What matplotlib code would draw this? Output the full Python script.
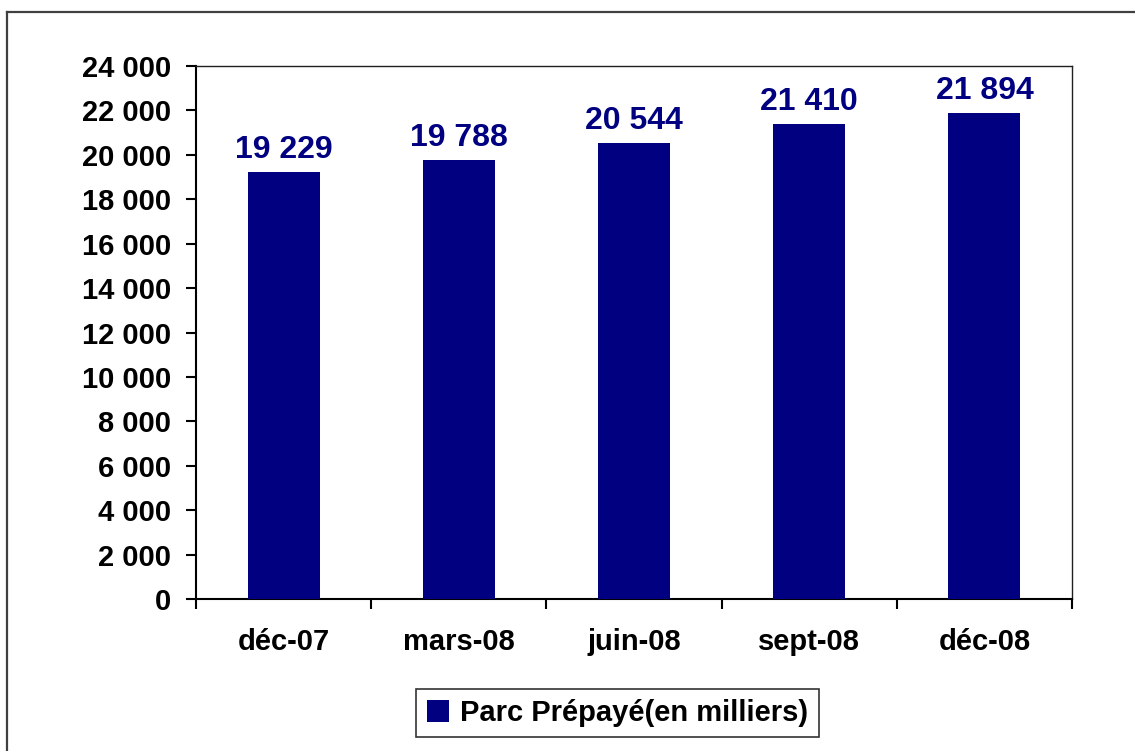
import matplotlib.pyplot as plt
from matplotlib.lines import Line2D
from matplotlib.ticker import FuncFormatter, FixedLocator

# data
categories = ['déc-07', 'mars-08', 'juin-08', 'sept-08', 'déc-08']
values = [19229, 19788, 20544, 21410, 21894]
series_name = 'Parc Prépayé(en milliers)'

plt.rcParams['font.family'] = ['Liberation Sans', 'DejaVu Sans']
plt.rcParams['font.weight'] = 'bold'

navy = '#000080'

def fr_num(v, pos=None):
    return f'{int(v):,}'.replace(',', ' ')

fig = plt.figure(figsize=(11.35, 7.51), dpi=100)
ax = fig.add_axes([196 / 1135, 1 - 599 / 751, (1072 - 196) / 1135, (599 - 66) / 751])

x = list(range(len(categories)))
bars = ax.bar(x, values, width=0.41, color=navy, label=series_name, zorder=3)

for xi, v in zip(x, values):
    ax.annotate(fr_num(v), (xi, v), xytext=(0, 5), textcoords='offset points',
                ha='center', va='bottom', color=navy, fontsize=23, fontweight='bold')

ax.set_xlim(-0.5, len(categories) - 0.5)
ax.set_ylim(0, 24000)
ax.set_yticks(range(0, 24001, 2000))
ax.yaxis.set_major_formatter(FuncFormatter(fr_num))

# ticks between categories, labels in the middle
ax.xaxis.set_major_locator(FixedLocator([i - 0.5 for i in range(len(categories) + 1)]))
ax.xaxis.set_major_formatter(FuncFormatter(lambda v, p: ''))
ax.xaxis.set_minor_locator(FixedLocator(x))
ax.set_xticklabels(categories, minor=True)
ax.tick_params(axis='x', which='major', direction='out', length=7, width=1.5)
ax.tick_params(axis='x', which='minor', length=0, pad=21, labelsize=21)
ax.tick_params(axis='y', direction='out', length=7, width=1.5, pad=11, labelsize=21)

for s in ['left', 'bottom']:
    ax.spines[s].set_linewidth(1.5)
for s in ['top', 'right']:
    ax.spines[s].set_linewidth(1.0)
    ax.spines[s].set_color('#202020')

leg = ax.legend(loc='center', bbox_to_anchor=(617.5 / 1135, 1 - 713 / 751),
                bbox_transform=fig.transFigure, fontsize=21, frameon=True, fancybox=False,
                handlelength=0.75, handleheight=0.75, handletextpad=0.4,
                borderpad=0.35, borderaxespad=0)
leg.get_frame().set_edgecolor('black')
leg.get_frame().set_linewidth(1.2)

# outer chart border (top and left visible)
fig.add_artist(Line2D([7 / 1135, 1], [1 - 12 / 751, 1 - 12 / 751], transform=fig.transFigure,
                      color='#404040', lw=1.6))
fig.add_artist(Line2D([7 / 1135, 7 / 1135], [0, 1 - 12 / 751], transform=fig.transFigure,
                      color='#404040', lw=1.6))

fig.savefig('out.png', dpi=100)
